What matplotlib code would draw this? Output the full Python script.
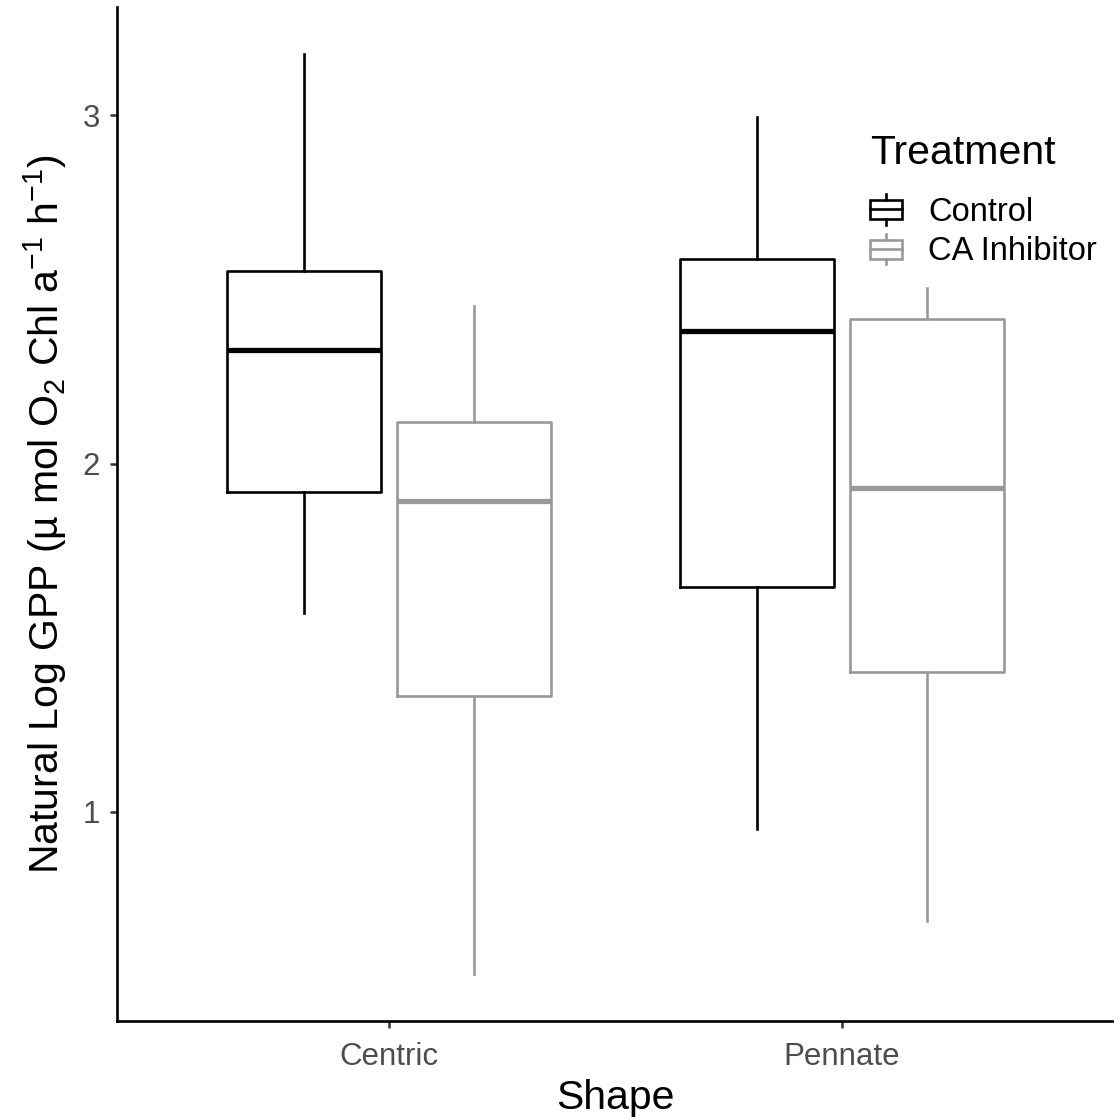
import matplotlib.pyplot as plt
from matplotlib.legend_handler import HandlerBase
from matplotlib.lines import Line2D
from matplotlib.patches import Rectangle

plt.rcParams['font.family'] = ['Liberation Sans', 'DejaVu Sans']
plt.rcParams['mathtext.fontset'] = 'custom'
plt.rcParams['mathtext.rm'] = 'Liberation Sans'
plt.rcParams['mathtext.it'] = 'Liberation Sans:italic'

shapes = ['Centric', 'Pennate']
treatments = ['Control', 'CA Inhibitor']
colors = ['black', '#999999']

# whislo, q1, median, q3, whishi per shape, per treatment
control_stats = [[1.572, 1.917, 2.325, 2.552, 3.175],
                 [0.951, 1.644, 2.382, 2.586, 2.994]]
inhib_stats = [[0.534, 1.333, 1.891, 2.118, 2.451],
               [0.687, 1.402, 1.931, 2.414, 2.503]]

fig = plt.figure(figsize=(11.14, 11.2), dpi=100)
ax = fig.add_axes([0.105, 0.0884, 0.895, 0.905])

for t, (stats_list, col) in enumerate(zip([control_stats, inhib_stats], colors)):
    offset = -0.1875 if t == 0 else 0.1875
    bstats = []
    for s in stats_list:
        bstats.append(dict(whislo=s[0], q1=s[1], med=s[2], q3=s[3], whishi=s[4], fliers=[]))
    positions = [i + 1 + offset for i in range(len(shapes))]
    ax.bxp(bstats, positions=positions, widths=0.34, showcaps=False, showfliers=False,
           boxprops=dict(color=col, linewidth=1.9),
           whiskerprops=dict(color=col, linewidth=1.9),
           medianprops=dict(color=col, linewidth=3.8, solid_capstyle='butt'))

ax.set_xlim(0.4, 2.6)
ax.set_ylim(0.399, 3.31)
ax.set_xticks([1, 2])
ax.set_xticklabels(shapes)
ax.set_yticks([1, 2, 3])
ax.set_yticklabels(['1', '2', '3'])
ax.tick_params(axis='both', colors='#333333', labelcolor='#4D4D4D', labelsize=22.5,
               width=1.8, length=5)
ax.tick_params(axis='x', pad=10)
ax.tick_params(axis='y', pad=7)
for side in ['top', 'right']:
    ax.spines[side].set_visible(False)
for side in ['left', 'bottom']:
    ax.spines[side].set_linewidth(1.9)

ax.set_xlabel('Shape', fontsize=29.5, labelpad=5)
ax.set_ylabel('Natural Log GPP (µ mol O$_2$ Chl a$^{-1}$ h$^{-1}$)', fontsize=29.5, labelpad=10)


class BoxHandler(HandlerBase):
    def create_artists(self, legend, orig_handle, xdescent, ydescent, width, height, fontsize, trans):
        col = orig_handle.get_color()
        cx = width / 2 - xdescent
        bw = width
        y0 = -ydescent
        rect = Rectangle((cx - bw / 2, y0 + height * 0.18), bw, height * 0.64,
                         facecolor='white', edgecolor=col, linewidth=1.9, transform=trans)
        med = Line2D([cx - bw / 2, cx + bw / 2], [y0 + height / 2] * 2, color=col,
                     linewidth=1.9, transform=trans)
        wt = Line2D([cx, cx], [y0 + height * 0.82, y0 + height], color=col,
                    linewidth=1.9, transform=trans)
        wb = Line2D([cx, cx], [y0, y0 + height * 0.18], color=col,
                    linewidth=1.9, transform=trans)
        return [rect, med, wt, wb]


handles = [Line2D([], [], color=c) for c in colors]
leg = ax.legend(handles, treatments, handler_map={Line2D: BoxHandler()}, title='Treatment',
                loc='upper left', bbox_to_anchor=(0.755, 0.875), frameon=False,
                fontsize=23.5, title_fontsize=29.5, handlelength=1.0, handleheight=1.05,
                handletextpad=0.8, labelspacing=0.2, borderaxespad=0, borderpad=0)
leg._legend_box.align = 'left'
leg._legend_box.sep = 16

fig.savefig('out.png', dpi=100)
